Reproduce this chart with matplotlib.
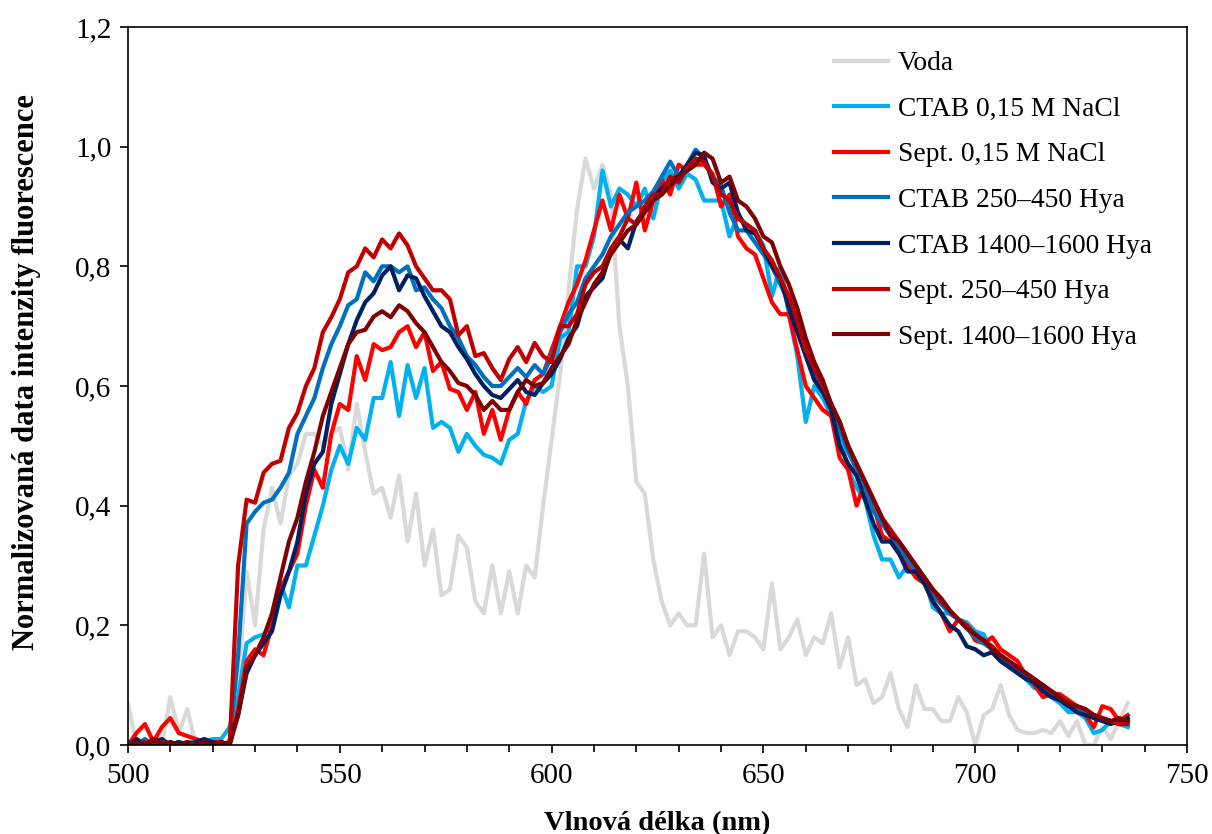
import numpy as np
import matplotlib
matplotlib.use("Agg")
import matplotlib.pyplot as plt
from matplotlib.ticker import MultipleLocator, FuncFormatter

plt.rcParams['font.family'] = ['Liberation Serif', 'DejaVu Serif']

# wavelength grid (nm), 2 nm step
wavelength = np.arange(500, 737, 2)

voda = [
    0.07, 0.0, 0.0, 0.01, 0.0, 0.08, 0.02, 0.06, 0.0, 0.0,
    0.0, 0.0, 0.01, 0.10, 0.29, 0.20, 0.36, 0.43, 0.37, 0.45,
    0.47, 0.52, 0.52, 0.50, 0.52, 0.53, 0.46, 0.57, 0.49, 0.42,
    0.43, 0.38, 0.45, 0.34, 0.42, 0.30, 0.36, 0.25, 0.26, 0.35,
    0.33, 0.24, 0.22, 0.30, 0.22, 0.29, 0.22, 0.30, 0.28, 0.40,
    0.51, 0.62, 0.76, 0.895, 0.98, 0.93, 0.97, 0.92, 0.70, 0.60,
    0.44, 0.42, 0.31, 0.24, 0.20, 0.22, 0.20, 0.20, 0.32, 0.18,
    0.20, 0.15, 0.19, 0.19, 0.18, 0.16, 0.27, 0.16, 0.18, 0.21,
    0.15, 0.18, 0.17, 0.22, 0.13, 0.18, 0.10, 0.11, 0.07, 0.08,
    0.12, 0.06, 0.03, 0.10, 0.06, 0.06, 0.04, 0.04, 0.08, 0.055,
    0.0, 0.05, 0.06, 0.10, 0.05, 0.025, 0.02, 0.02, 0.025, 0.02,
    0.04, 0.015, 0.04, 0.0, 0.0, 0.03, 0.01, 0.04, 0.07,
]

ctab_nacl = [
    0.0, 0.01, 0.0, 0.01, 0.0, 0.005, 0.0, 0.0, 0.01, 0.005,
    0.01, 0.01, 0.03, 0.08, 0.17, 0.18, 0.185, 0.20, 0.27, 0.23,
    0.30, 0.30, 0.35, 0.40, 0.46, 0.50, 0.47, 0.53, 0.51, 0.58,
    0.58, 0.64, 0.55, 0.635, 0.58, 0.63, 0.53, 0.54, 0.53, 0.49,
    0.52, 0.50, 0.485, 0.48, 0.47, 0.51, 0.52, 0.575, 0.60, 0.59,
    0.60, 0.68, 0.69, 0.80, 0.80, 0.85, 0.96, 0.90, 0.93, 0.92,
    0.90, 0.93, 0.88, 0.94, 0.96, 0.93, 0.955, 0.945, 0.91, 0.91,
    0.91, 0.85, 0.885, 0.87, 0.86, 0.835, 0.75, 0.80, 0.72, 0.65,
    0.54, 0.60, 0.58, 0.55, 0.52, 0.46, 0.43, 0.41, 0.35, 0.31,
    0.31, 0.28, 0.30, 0.29, 0.28, 0.23, 0.22, 0.22, 0.21, 0.205,
    0.19, 0.185, 0.155, 0.14, 0.135, 0.125, 0.11, 0.095, 0.10, 0.08,
    0.07, 0.055, 0.055, 0.045, 0.02, 0.025, 0.04, 0.035, 0.03,
]

sept_nacl = [
    0.0, 0.02, 0.035, 0.005, 0.03, 0.045, 0.02, 0.015, 0.01, 0.005,
    0.005, 0.005, 0.0, 0.06, 0.14, 0.16, 0.15, 0.20, 0.26, 0.29,
    0.32, 0.40, 0.46, 0.43, 0.52, 0.57, 0.56, 0.65, 0.61, 0.67,
    0.66, 0.665, 0.69, 0.70, 0.665, 0.69, 0.625, 0.64, 0.595, 0.59,
    0.56, 0.59, 0.52, 0.56, 0.51, 0.56, 0.59, 0.57, 0.61, 0.62,
    0.66, 0.70, 0.74, 0.77, 0.81, 0.86, 0.91, 0.86, 0.92, 0.88,
    0.94, 0.86, 0.91, 0.945, 0.92, 0.97, 0.96, 0.97, 0.97, 0.955,
    0.90, 0.92, 0.85, 0.83, 0.82, 0.78, 0.74, 0.72, 0.72, 0.66,
    0.60, 0.58, 0.56, 0.55, 0.48, 0.46, 0.40, 0.44, 0.40, 0.35,
    0.34, 0.32, 0.30, 0.28, 0.27, 0.24, 0.22, 0.19, 0.21, 0.20,
    0.175, 0.17, 0.18, 0.16, 0.15, 0.14, 0.115, 0.10, 0.08, 0.085,
    0.085, 0.075, 0.065, 0.05, 0.03, 0.065, 0.06, 0.04, 0.05,
]

ctab_250 = [
    0.005, 0.0, 0.01, 0.0, 0.005, 0.0, 0.005, 0.0, 0.005, 0.0,
    0.005, 0.0, 0.005, 0.15, 0.37, 0.39, 0.405, 0.41, 0.43, 0.455,
    0.52, 0.55, 0.58, 0.63, 0.67, 0.70, 0.735, 0.745, 0.79, 0.775,
    0.80, 0.80, 0.79, 0.80, 0.76, 0.765, 0.745, 0.73, 0.70, 0.68,
    0.65, 0.635, 0.615, 0.60, 0.60, 0.615, 0.63, 0.615, 0.635, 0.62,
    0.65, 0.69, 0.72, 0.74, 0.78, 0.80, 0.82, 0.85, 0.87, 0.89,
    0.90, 0.91, 0.925, 0.95, 0.975, 0.95, 0.97, 0.995, 0.98, 0.95,
    0.935, 0.89, 0.86, 0.86, 0.84, 0.82, 0.80, 0.77, 0.74, 0.70,
    0.65, 0.62, 0.59, 0.57, 0.53, 0.49, 0.46, 0.43, 0.39, 0.37,
    0.35, 0.33, 0.31, 0.29, 0.27, 0.25, 0.235, 0.22, 0.21, 0.195,
    0.18, 0.17, 0.16, 0.145, 0.135, 0.125, 0.115, 0.105, 0.095, 0.085,
    0.075, 0.065, 0.06, 0.055, 0.05, 0.045, 0.04, 0.035, 0.04,
]

ctab_1400 = [
    0.0, 0.01, 0.0, 0.005, 0.01, 0.0, 0.005, 0.0, 0.005, 0.01,
    0.005, 0.0, 0.005, 0.05, 0.12, 0.15, 0.17, 0.19, 0.25, 0.29,
    0.34, 0.42, 0.47, 0.49, 0.57, 0.62, 0.67, 0.71, 0.74, 0.755,
    0.785, 0.80, 0.76, 0.785, 0.78, 0.75, 0.725, 0.70, 0.69, 0.665,
    0.645, 0.62, 0.60, 0.585, 0.58, 0.595, 0.61, 0.59, 0.585, 0.605,
    0.62, 0.645, 0.68, 0.70, 0.75, 0.765, 0.78, 0.825, 0.845, 0.83,
    0.875, 0.895, 0.915, 0.93, 0.945, 0.95, 0.97, 0.99, 0.985, 0.94,
    0.93, 0.94, 0.89, 0.86, 0.855, 0.83, 0.80, 0.78, 0.73, 0.69,
    0.65, 0.61, 0.59, 0.56, 0.50, 0.47, 0.45, 0.41, 0.37, 0.34,
    0.34, 0.32, 0.29, 0.29, 0.27, 0.24, 0.22, 0.20, 0.19, 0.165,
    0.16, 0.15, 0.155, 0.14, 0.13, 0.12, 0.11, 0.105, 0.09, 0.08,
    0.075, 0.065, 0.055, 0.05, 0.045, 0.04, 0.035, 0.04, 0.045,
]

sept_250 = [
    0.005, 0.0, 0.005, 0.0, 0.005, 0.0, 0.0, 0.005, 0.0, 0.005,
    0.0, 0.005, 0.0, 0.30, 0.41, 0.405, 0.455, 0.47, 0.475, 0.53,
    0.555, 0.60, 0.63, 0.69, 0.715, 0.745, 0.79, 0.80, 0.83, 0.815,
    0.845, 0.83, 0.855, 0.835, 0.80, 0.78, 0.76, 0.76, 0.745, 0.685,
    0.70, 0.65, 0.655, 0.63, 0.61, 0.645, 0.665, 0.64, 0.672, 0.65,
    0.64, 0.70, 0.70, 0.72, 0.77, 0.79, 0.80, 0.83, 0.85, 0.88,
    0.87, 0.90, 0.92, 0.92, 0.95, 0.94, 0.965, 0.98, 0.975, 0.95,
    0.92, 0.91, 0.88, 0.87, 0.86, 0.83, 0.81, 0.78, 0.75, 0.71,
    0.66, 0.63, 0.60, 0.57, 0.54, 0.50, 0.47, 0.44, 0.41, 0.38,
    0.36, 0.34, 0.32, 0.30, 0.28, 0.26, 0.24, 0.225, 0.21, 0.20,
    0.185, 0.175, 0.165, 0.15, 0.14, 0.13, 0.12, 0.11, 0.10, 0.09,
    0.08, 0.07, 0.065, 0.06, 0.05, 0.045, 0.04, 0.035, 0.035,
]

sept_1400 = [
    0.0, 0.005, 0.0, 0.01, 0.0, 0.005, 0.0, 0.005, 0.0, 0.005,
    0.0, 0.005, 0.0, 0.05, 0.13, 0.15, 0.18, 0.22, 0.28, 0.34,
    0.38, 0.44, 0.49, 0.55, 0.59, 0.63, 0.67, 0.69, 0.694, 0.716,
    0.725, 0.715, 0.735, 0.725, 0.705, 0.69, 0.665, 0.64, 0.625, 0.605,
    0.60, 0.585, 0.56, 0.575, 0.56, 0.56, 0.59, 0.61, 0.60, 0.605,
    0.63, 0.65, 0.67, 0.71, 0.74, 0.77, 0.79, 0.82, 0.84, 0.86,
    0.87, 0.89, 0.91, 0.92, 0.935, 0.95, 0.96, 0.97, 0.99, 0.98,
    0.94, 0.95, 0.91, 0.90, 0.88, 0.85, 0.84, 0.80, 0.77, 0.73,
    0.68, 0.64, 0.61, 0.57, 0.54, 0.50, 0.47, 0.44, 0.41, 0.38,
    0.35, 0.34, 0.32, 0.30, 0.28, 0.26, 0.245, 0.225, 0.21, 0.195,
    0.185, 0.175, 0.16, 0.15, 0.14, 0.13, 0.12, 0.11, 0.10, 0.09,
    0.08, 0.07, 0.065, 0.06, 0.05, 0.045, 0.04, 0.045, 0.04,
]

labels = ["Voda", "CTAB 0,15 M NaCl", "Sept. 0,15 M NaCl", "CTAB 250\u2013450 Hya",
          "CTAB 1400\u20131600 Hya", "Sept. 250\u2013450 Hya", "Sept. 1400\u20131600 Hya"]
series = [voda, ctab_nacl, sept_nacl, ctab_250, ctab_1400, sept_250, sept_1400]
colors = ["#D9D9D9", "#00B0F0", "#FF0000", "#0070C0", "#002060", "#C00000", "#7F0000"]

fig = plt.figure(figsize=(12.12, 8.34), dpi=100)
ax = fig.add_axes([0.1056, 0.1067, 0.8738, 0.8609])

for vals, lab, col in zip(series, labels, colors):
    ax.plot(wavelength, vals, color=col, lw=3.0, label=lab, solid_joinstyle="round")

ax.set_xlim(500, 750)
ax.set_ylim(0, 1.2)
ax.xaxis.set_major_locator(MultipleLocator(50))
ax.xaxis.set_minor_locator(MultipleLocator(10))
ax.yaxis.set_major_locator(MultipleLocator(0.2))
ax.yaxis.set_major_formatter(FuncFormatter(lambda v, p: f"{v:.1f}".replace(".", ",")))
ax.tick_params(axis="both", which="major", direction="out", length=6, width=1.2,
               labelsize=21, top=False, right=False)
ax.tick_params(axis="y", which="major", pad=6)
ax.tick_params(axis="x", which="major", pad=7)
ax.tick_params(axis="x", which="minor", direction="out", length=5, width=1.2, top=False)
for s in ax.spines.values():
    s.set_linewidth(1.2)

ax.set_xlabel("Vlnová délka (nm)", fontsize=20.5, fontweight="bold", labelpad=16)
ax.set_ylabel("Normalizovaná data intenzity fluorescence", fontsize=22, fontweight="bold")
ax.yaxis.set_label_coords(-0.082, 0.52)

ax.legend(loc="upper left", bbox_to_anchor=(0.656, 0.982), frameon=False, fontsize=19.8,
          handlelength=1.96, handletextpad=0.36, labelspacing=0.74, borderaxespad=0)

fig.savefig("out.png", dpi=100)
